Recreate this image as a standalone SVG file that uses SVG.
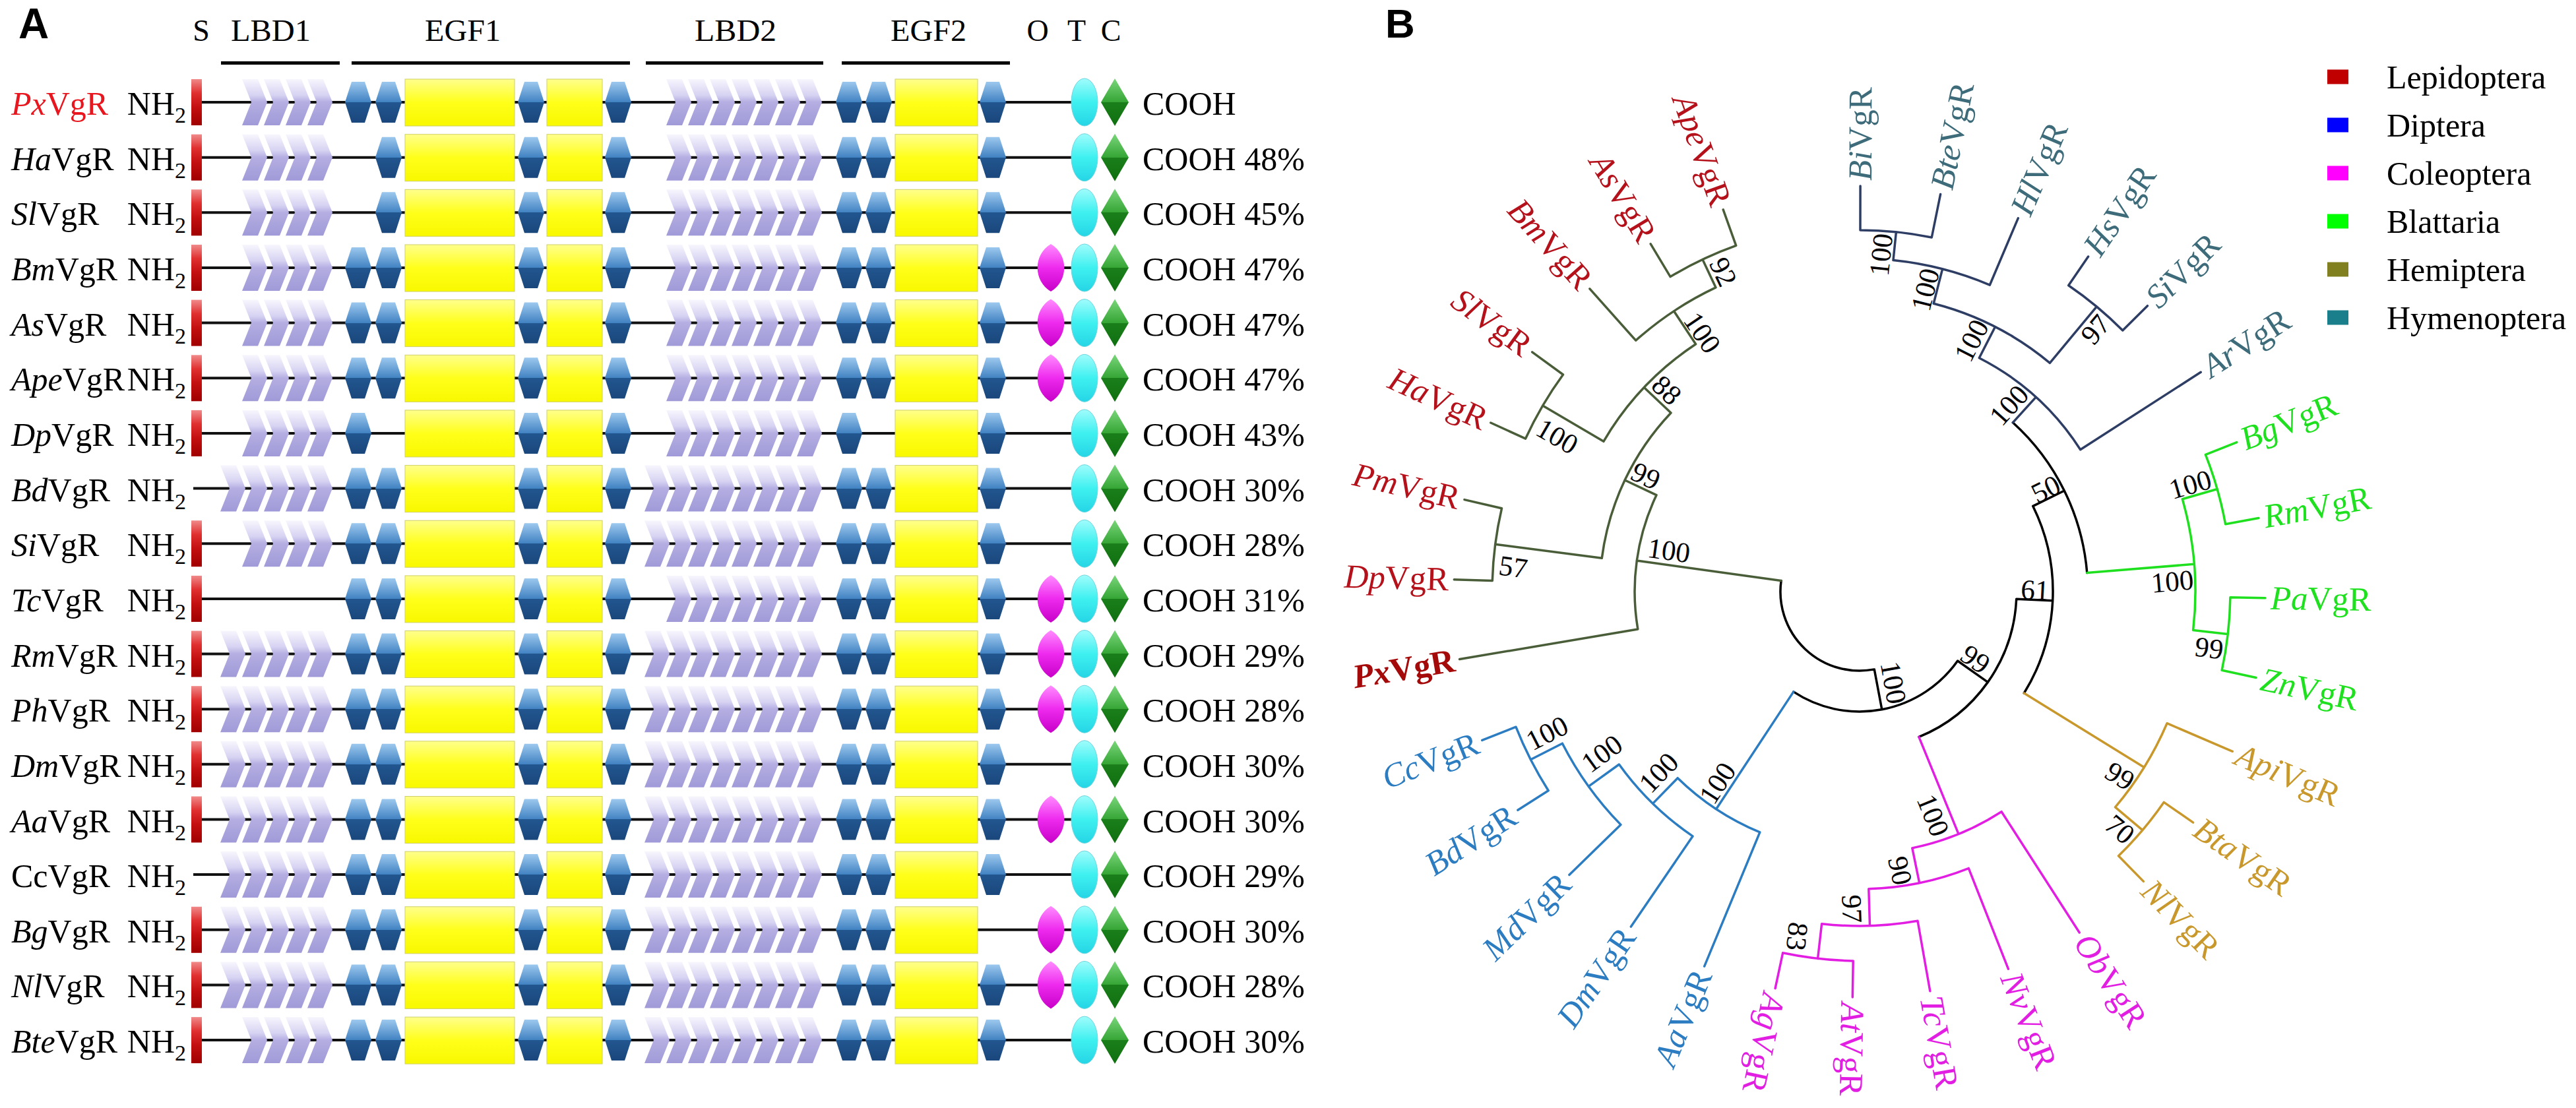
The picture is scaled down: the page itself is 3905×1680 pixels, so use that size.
<svg xmlns="http://www.w3.org/2000/svg" width="3905" height="1680" viewBox="0 0 3905 1680">
<style>
.t{font-family:"Liberation Serif","Times New Roman",serif;fill:#000}
.lab{font-size:50px}
.sub{font-size:34px}
.it{font-style:italic}
.hdr{font-size:46px}
.leaf{font-size:51px}
.bs{font-size:43px}
.leg{font-size:50px}
.e{fill:none;stroke-width:3.5;stroke-linecap:round;stroke-linejoin:round}
.k{stroke:#000}
.lep{stroke:#4a5d39}
.dip{stroke:#2b7cc1}
.col{stroke:#e31ee3}
.hem{stroke:#c9982c}
.bla{stroke:#1ee01e}
.hym{stroke:#2d3d64}
</style>
<defs>
<linearGradient id="gH" x1="0" y1="0" x2="0" y2="1"><stop offset="0" stop-color="#9cc8ee"/><stop offset="0.5" stop-color="#4182c2"/><stop offset="0.5" stop-color="#22568f"/><stop offset="1" stop-color="#1a477c"/></linearGradient>
<linearGradient id="gCh" x1="0" y1="0" x2="0" y2="1"><stop offset="0" stop-color="#f7f6fd"/><stop offset="0.35" stop-color="#d6d2f2"/><stop offset="0.5" stop-color="#b4aee2"/><stop offset="1" stop-color="#a09ad8"/></linearGradient>
<linearGradient id="gY" x1="0" y1="0" x2="0" y2="1"><stop offset="0" stop-color="#ffff8c"/><stop offset="0.5" stop-color="#ffff1a"/><stop offset="1" stop-color="#f8f800"/></linearGradient>
<linearGradient id="gS" x1="0" y1="0" x2="0" y2="1"><stop offset="0" stop-color="#f08a8a"/><stop offset="0.3" stop-color="#e03030"/><stop offset="0.6" stop-color="#c41010"/><stop offset="1" stop-color="#a00000"/></linearGradient>
<linearGradient id="gO" x1="0" y1="0" x2="0" y2="1"><stop offset="0" stop-color="#ff8cff"/><stop offset="0.5" stop-color="#ee2aee"/><stop offset="1" stop-color="#c800c8"/></linearGradient>
<linearGradient id="gT" x1="0" y1="0" x2="0" y2="1"><stop offset="0" stop-color="#a0fcfc"/><stop offset="0.5" stop-color="#3ff0f0"/><stop offset="1" stop-color="#25d5e5"/></linearGradient>
<linearGradient id="gC" x1="0" y1="0" x2="0" y2="1"><stop offset="0" stop-color="#7ad67a"/><stop offset="0.5" stop-color="#35a535"/><stop offset="0.5" stop-color="#1a7f1a"/><stop offset="1" stop-color="#0f6f0f"/></linearGradient>
<polygon id="hx" points="-20,0 -10,-31 10,-31 20,0 10,31 -10,31" fill="url(#gH)"/>
<polygon id="ch" points="0,-35 24,-35 38,0 24,35 0,35 14,0" fill="url(#gCh)"/>
<line id="bb" x1="293" y1="0" x2="1644" y2="0" stroke="#111" stroke-width="4"/>
<rect id="sb" x="290" y="-35" width="16" height="70" fill="url(#gS)"/>
<path id="oo" d="M1593,-36 C1620,-20 1620,20 1593,36 C1566,20 1566,-20 1593,-36Z" fill="url(#gO)"/>
<g id="L1a"><use href="#ch" x="367"/><use href="#ch" x="400"/><use href="#ch" x="433"/><use href="#ch" x="466"/></g>
<g id="L1b"><use href="#ch" x="334"/><use href="#L1a"/></g>
<g id="L2a"><use href="#ch" x="1010"/><use href="#ch" x="1043"/><use href="#ch" x="1076"/><use href="#ch" x="1109"/><use href="#ch" x="1142"/><use href="#ch" x="1175"/><use href="#ch" x="1208"/></g>
<g id="L2b"><use href="#ch" x="977"/><use href="#L2a"/></g>
<g id="cm">
<rect x="614" y="-35" width="166" height="71" fill="url(#gY)" stroke="#cfcf66" stroke-width="1"/>
<use href="#hx" x="805"/>
<rect x="829" y="-35" width="84" height="71" fill="url(#gY)" stroke="#cfcf66" stroke-width="1"/>
<use href="#hx" x="937"/>
<rect x="1357" y="-35" width="125" height="71" fill="url(#gY)" stroke="#cfcf66" stroke-width="1"/>
<ellipse cx="1644" cy="0" rx="20" ry="36" fill="url(#gT)" stroke="#6cd6de" stroke-width="1"/>
<polygon points="1690,-36 1711,0 1690,36 1669,0" fill="url(#gC)"/>
</g>
</defs>
<rect width="3905" height="1680" fill="#fff"/>

<g id="panelA" class="t">
<text x="28" y="58" font-family="Liberation Sans, Arial, sans-serif" font-weight="bold" font-size="64">A</text>
<g id="header">
<text class="hdr" x="305" y="62" text-anchor="middle">S</text>
<text class="hdr" x="350" y="62" textLength="121" lengthAdjust="spacingAndGlyphs">LBD1</text>
<text class="hdr" x="644" y="62" textLength="115" lengthAdjust="spacingAndGlyphs">EGF1</text>
<text class="hdr" x="1053" y="62" textLength="124" lengthAdjust="spacingAndGlyphs">LBD2</text>
<text class="hdr" x="1350" y="62" textLength="115" lengthAdjust="spacingAndGlyphs">EGF2</text>
<text class="hdr" x="1573" y="62" text-anchor="middle">O</text>
<text class="hdr" x="1632" y="62" text-anchor="middle">T</text>
<text class="hdr" x="1684" y="62" text-anchor="middle">C</text>
<rect x="335" y="93" width="180" height="5"/>
<rect x="533" y="93" width="422" height="5"/>
<rect x="979" y="93" width="269" height="5"/>
<rect x="1276" y="93" width="255" height="5"/>
</g>

<g id="row-Px" transform="translate(0,155)"><use href="#bb"/><use href="#sb"/><use href="#L1a"/><use href="#hx" x="543"/><use href="#hx" x="589"/><use href="#L2a"/><use href="#hx" x="1287"/><use href="#hx" x="1332"/><use href="#cm"/><use href="#hx" x="1505"/>
<text class="lab" x="17" y="19" fill="#e8161e"><tspan class="it">Px</tspan>VgR</text><text class="lab" x="282" y="19" text-anchor="end">NH<tspan class="sub" dy="12">2</tspan></text><text class="lab" x="1732" y="19">COOH</text></g>

<g id="row-Ha" transform="translate(0,238.7)"><use href="#bb"/><use href="#sb"/><use href="#L1a"/><use href="#hx" x="589"/><use href="#L2a"/><use href="#hx" x="1287"/><use href="#hx" x="1332"/><use href="#cm"/><use href="#hx" x="1505"/>
<text class="lab" x="17" y="19"><tspan class="it">Ha</tspan>VgR</text><text class="lab" x="282" y="19" text-anchor="end">NH<tspan class="sub" dy="12">2</tspan></text><text class="lab" x="1732" y="19">COOH 48%</text></g>

<g id="row-Sl" transform="translate(0,322.3)"><use href="#bb"/><use href="#sb"/><use href="#L1a"/><use href="#hx" x="589"/><use href="#L2a"/><use href="#hx" x="1287"/><use href="#hx" x="1332"/><use href="#cm"/><use href="#hx" x="1505"/>
<text class="lab" x="17" y="19"><tspan class="it">Sl</tspan>VgR</text><text class="lab" x="282" y="19" text-anchor="end">NH<tspan class="sub" dy="12">2</tspan></text><text class="lab" x="1732" y="19">COOH 45%</text></g>

<g id="row-Bm" transform="translate(0,406)"><use href="#bb"/><use href="#sb"/><use href="#L1a"/><use href="#hx" x="543"/><use href="#hx" x="589"/><use href="#L2a"/><use href="#hx" x="1287"/><use href="#hx" x="1332"/><use href="#cm"/><use href="#hx" x="1505"/><use href="#oo"/>
<text class="lab" x="17" y="19"><tspan class="it">Bm</tspan>VgR</text><text class="lab" x="282" y="19" text-anchor="end">NH<tspan class="sub" dy="12">2</tspan></text><text class="lab" x="1732" y="19">COOH 47%</text></g>

<g id="row-As" transform="translate(0,489.6)"><use href="#bb"/><use href="#sb"/><use href="#L1a"/><use href="#hx" x="543"/><use href="#hx" x="589"/><use href="#L2a"/><use href="#hx" x="1287"/><use href="#hx" x="1332"/><use href="#cm"/><use href="#hx" x="1505"/><use href="#oo"/>
<text class="lab" x="17" y="19"><tspan class="it">As</tspan>VgR</text><text class="lab" x="282" y="19" text-anchor="end">NH<tspan class="sub" dy="12">2</tspan></text><text class="lab" x="1732" y="19">COOH 47%</text></g>

<g id="row-Ape" transform="translate(0,573.3)"><use href="#bb"/><use href="#sb"/><use href="#L1a"/><use href="#hx" x="543"/><use href="#hx" x="589"/><use href="#L2a"/><use href="#hx" x="1287"/><use href="#hx" x="1332"/><use href="#cm"/><use href="#hx" x="1505"/><use href="#oo"/>
<text class="lab" x="17" y="19"><tspan class="it">Ape</tspan>VgR</text><text class="lab" x="282" y="19" text-anchor="end">NH<tspan class="sub" dy="12">2</tspan></text><text class="lab" x="1732" y="19">COOH 47%</text></g>

<g id="row-Dp" transform="translate(0,656.9)"><use href="#bb"/><use href="#sb"/><use href="#L1a"/><use href="#hx" x="543"/><use href="#L2a"/><use href="#hx" x="1287"/><use href="#cm"/><use href="#hx" x="1505"/>
<text class="lab" x="17" y="19"><tspan class="it">Dp</tspan>VgR</text><text class="lab" x="282" y="19" text-anchor="end">NH<tspan class="sub" dy="12">2</tspan></text><text class="lab" x="1732" y="19">COOH 43%</text></g>

<g id="row-Bd" transform="translate(0,740.6)"><use href="#bb"/><use href="#L1b"/><use href="#hx" x="543"/><use href="#hx" x="589"/><use href="#L2b"/><use href="#hx" x="1287"/><use href="#hx" x="1332"/><use href="#cm"/><use href="#hx" x="1505"/>
<text class="lab" x="17" y="19"><tspan class="it">Bd</tspan>VgR</text><text class="lab" x="282" y="19" text-anchor="end">NH<tspan class="sub" dy="12">2</tspan></text><text class="lab" x="1732" y="19">COOH 30%</text></g>

<g id="row-Si" transform="translate(0,824.2)"><use href="#bb"/><use href="#sb"/><use href="#L1a"/><use href="#hx" x="543"/><use href="#hx" x="589"/><use href="#L2b"/><use href="#hx" x="1287"/><use href="#hx" x="1332"/><use href="#cm"/><use href="#hx" x="1505"/>
<text class="lab" x="17" y="19"><tspan class="it">Si</tspan>VgR</text><text class="lab" x="282" y="19" text-anchor="end">NH<tspan class="sub" dy="12">2</tspan></text><text class="lab" x="1732" y="19">COOH 28%</text></g>

<g id="row-Tc" transform="translate(0,907.9)"><use href="#bb"/><use href="#sb"/><use href="#hx" x="543"/><use href="#hx" x="589"/><use href="#L2a"/><use href="#hx" x="1287"/><use href="#hx" x="1332"/><use href="#cm"/><use href="#hx" x="1505"/><use href="#oo"/>
<text class="lab" x="17" y="19"><tspan class="it">Tc</tspan>VgR</text><text class="lab" x="282" y="19" text-anchor="end">NH<tspan class="sub" dy="12">2</tspan></text><text class="lab" x="1732" y="19">COOH 31%</text></g>

<g id="row-Rm" transform="translate(0,991.5)"><use href="#bb"/><use href="#sb"/><use href="#L1b"/><use href="#hx" x="543"/><use href="#hx" x="589"/><use href="#L2b"/><use href="#hx" x="1287"/><use href="#hx" x="1332"/><use href="#cm"/><use href="#hx" x="1505"/><use href="#oo"/>
<text class="lab" x="17" y="19"><tspan class="it">Rm</tspan>VgR</text><text class="lab" x="282" y="19" text-anchor="end">NH<tspan class="sub" dy="12">2</tspan></text><text class="lab" x="1732" y="19">COOH 29%</text></g>

<g id="row-Ph" transform="translate(0,1075.2)"><use href="#bb"/><use href="#sb"/><use href="#L1b"/><use href="#hx" x="543"/><use href="#hx" x="589"/><use href="#L2b"/><use href="#hx" x="1287"/><use href="#hx" x="1332"/><use href="#cm"/><use href="#hx" x="1505"/><use href="#oo"/>
<text class="lab" x="17" y="19"><tspan class="it">Ph</tspan>VgR</text><text class="lab" x="282" y="19" text-anchor="end">NH<tspan class="sub" dy="12">2</tspan></text><text class="lab" x="1732" y="19">COOH 28%</text></g>

<g id="row-Dm" transform="translate(0,1158.8)"><use href="#bb"/><use href="#sb"/><use href="#L1b"/><use href="#hx" x="543"/><use href="#hx" x="589"/><use href="#L2b"/><use href="#hx" x="1287"/><use href="#hx" x="1332"/><use href="#cm"/><use href="#hx" x="1505"/>
<text class="lab" x="17" y="19"><tspan class="it">Dm</tspan>VgR</text><text class="lab" x="282" y="19" text-anchor="end">NH<tspan class="sub" dy="12">2</tspan></text><text class="lab" x="1732" y="19">COOH 30%</text></g>

<g id="row-Aa" transform="translate(0,1242.5)"><use href="#bb"/><use href="#sb"/><use href="#L1b"/><use href="#hx" x="543"/><use href="#hx" x="589"/><use href="#L2b"/><use href="#hx" x="1287"/><use href="#hx" x="1332"/><use href="#cm"/><use href="#hx" x="1505"/><use href="#oo"/>
<text class="lab" x="17" y="19"><tspan class="it">Aa</tspan>VgR</text><text class="lab" x="282" y="19" text-anchor="end">NH<tspan class="sub" dy="12">2</tspan></text><text class="lab" x="1732" y="19">COOH 30%</text></g>

<g id="row-Cc" transform="translate(0,1326.1)"><use href="#bb"/><use href="#L1b"/><use href="#hx" x="543"/><use href="#hx" x="589"/><use href="#L2b"/><use href="#hx" x="1287"/><use href="#hx" x="1332"/><use href="#cm"/><use href="#hx" x="1505"/>
<text class="lab" x="17" y="19">CcVgR</text><text class="lab" x="282" y="19" text-anchor="end">NH<tspan class="sub" dy="12">2</tspan></text><text class="lab" x="1732" y="19">COOH 29%</text></g>

<g id="row-Bg" transform="translate(0,1409.8)"><use href="#bb"/><use href="#sb"/><use href="#L1b"/><use href="#hx" x="543"/><use href="#hx" x="589"/><use href="#L2b"/><use href="#hx" x="1287"/><use href="#hx" x="1332"/><use href="#cm"/><use href="#oo"/>
<text class="lab" x="17" y="19"><tspan class="it">Bg</tspan>VgR</text><text class="lab" x="282" y="19" text-anchor="end">NH<tspan class="sub" dy="12">2</tspan></text><text class="lab" x="1732" y="19">COOH 30%</text></g>

<g id="row-Nl" transform="translate(0,1493.4)"><use href="#bb"/><use href="#sb"/><use href="#L1b"/><use href="#hx" x="543"/><use href="#hx" x="589"/><use href="#L2b"/><use href="#hx" x="1287"/><use href="#hx" x="1332"/><use href="#cm"/><use href="#hx" x="1505"/><use href="#oo"/>
<text class="lab" x="17" y="19"><tspan class="it">Nl</tspan>VgR</text><text class="lab" x="282" y="19" text-anchor="end">NH<tspan class="sub" dy="12">2</tspan></text><text class="lab" x="1732" y="19">COOH 28%</text></g>

<g id="row-Bte" transform="translate(0,1577.1)"><use href="#bb"/><use href="#sb"/><use href="#L1a"/><use href="#hx" x="543"/><use href="#hx" x="589"/><use href="#L2b"/><use href="#hx" x="1287"/><use href="#hx" x="1332"/><use href="#cm"/><use href="#hx" x="1505"/>
<text class="lab" x="17" y="19"><tspan class="it">Bte</tspan>VgR</text><text class="lab" x="282" y="19" text-anchor="end">NH<tspan class="sub" dy="12">2</tspan></text><text class="lab" x="1732" y="19">COOH 30%</text></g>
</g>

<g id="panelB" class="t">
<text x="2100" y="57" font-family="Liberation Sans, Arial, sans-serif" font-weight="bold" font-size="62">B</text>

<g id="connectors">
<path class="e k" d="M2841.3 1014.9 A120 120 0 0 1 2700.1 880.5 M2841.3 1014.9 L2852.8 1075.8 M2967.6 1002 A182 182 0 0 1 2718.8 1048.9 M2967.6 1002 L3013.4 1034.4 M3056.7 908.2 A238 238 0 0 1 2908.9 1117.4 M3056.7 908.2 L3111.7 910.8 M3081.8 767.4 A293 293 0 0 1 3068.3 1051 M3081.8 767.4 L3129.3 744 M3051.4 640.7 A346 346 0 0 1 3163.8 868.6"/>
<path class="e lep" d="M2700.1 880.5 L2481.2 850.1 M2482.8 953.9 A341 341 0 0 1 2511 750.7 M2482.8 953.9 L2212.6 999.6 M2511 750.7 L2463.1 728 M2428.3 846.3 A394 394 0 0 1 2533 626 M2428.3 846.3 L2266.6 825.3 M2262.3 880.5 A557 557 0 0 1 2276.5 770.8 M2262.3 880.5 L2204.3 878.8 M2276.5 770.8 L2220 757.6 M2533 626 L2492.3 587.5 M2430.9 669.3 A450 450 0 0 1 2570.6 521.8 M2430.9 669.3 L2338.6 615.1 M2312.6 665.1 A557 557 0 0 1 2369.5 568 M2312.6 665.1 L2259.8 641 M2369.5 568 L2322.7 533.8 M2570.6 521.8 L2537.5 471.7 M2479.7 516.2 A510 510 0 0 1 2601 435.9 M2479.7 516.2 L2409.9 437.8 M2601 435.9 L2581 393.4 M2532.1 419.6 A557 557 0 0 1 2631.7 372.4 M2532.1 419.6 L2502.2 369.8 M2631.7 372.4 L2612.2 317.8"/>
<path class="e dip" d="M2718.8 1048.9 L2601.6 1226.8 M2667.8 1261.9 A395 395 0 0 1 2543.2 1179.7 M2667.8 1261.9 L2583.7 1465.2 M2543.2 1179.7 L2505.5 1218.4 M2566 1267.9 A449 449 0 0 1 2454.4 1159 M2566 1267.9 L2472.4 1405.1 M2454.4 1159 L2408.1 1192.3 M2456.9 1250.4 A506 506 0 0 1 2368.4 1127.2 M2456.9 1250.4 L2378.9 1326.5 M2368.4 1127.2 L2320.3 1151.7 M2347.2 1198.7 A560 560 0 0 1 2298 1102.2 M2347.2 1198.7 L2300.9 1228.3 M2298 1102.2 L2246.8 1122.4"/>
<path class="e col" d="M2908.9 1117.4 L2969 1264.6 M3034.1 1230.7 A397 397 0 0 1 2898.8 1285.9 M3034.1 1230.7 L3152.2 1414 M2898.8 1285.9 L2909.7 1338.8 M2984.3 1316.6 A451 451 0 0 1 2832.8 1347.8 M2984.3 1316.6 L3044.4 1469.2 M2832.8 1347.8 L2834.5 1403.8 M2907 1396.3 A507 507 0 0 1 2761.6 1400.7 M2907 1396.3 L2925.8 1502.7 M2761.6 1400.7 L2755.6 1453.4 M2809.2 1456.9 A560 560 0 0 1 2702.6 1444.8 M2809.2 1456.9 L2808.3 1511.9 M2702.6 1444.8 L2691.1 1498.6"/>
<path class="e hem" d="M3068.3 1051 L3250.4 1163.4 M3285 1096.7 A507 507 0 0 1 3206.5 1223.9 M3285 1096.7 L3384.3 1139.3 M3206.5 1223.9 L3247.8 1258.7 M3280.2 1216.4 A561 561 0 0 1 3211.5 1297.8 M3280.2 1216.4 L3324.6 1247.1 M3211.5 1297.8 L3249.3 1336.4"/>
<path class="e bla" d="M3163.8 868.6 L3326.3 855.3 M3308.3 756.7 A509 509 0 0 1 3324.6 955.5 M3308.3 756.7 L3361.2 741.5 M3324.6 955.5 L3377.3 961.6 M3343.4 689.4 A564 564 0 0 1 3373.6 794.7 M3343.4 689.4 L3390.8 670.6 M3373.6 794.7 L3423.8 785.5 M3380.9 905.8 A562 562 0 0 1 3368.2 1016.2 M3380.9 905.8 L3433.9 906.7 M3368.2 1016.2 L3420 1027.5"/>
<path class="e hym" d="M3051.4 640.7 L3086.3 602.1 M3000.3 542.7 A398 398 0 0 1 3153.7 681.7 M3000.3 542.7 L3024.5 495.5 M3153.7 681.7 L3336.2 564.3 M2931.2 460.2 A451 451 0 0 1 3107.4 550.3 M2931.2 460.2 L2944.6 407.9 M3107.4 550.3 L3178.4 464.9 M2870 394.6 A505 505 0 0 1 3016.3 432.2 M2870 394.6 L2874.4 351.8 M3016.3 432.2 L3059.3 330.9 M2820 349 A548 548 0 0 1 2928.3 360 M2820 349 L2820.1 282 M2928.3 360 L2941.6 294.4 M3135.7 432.7 A562 562 0 0 1 3217.8 501 M3135.7 432.7 L3165.6 389 M3217.8 501 L3255.4 463.7"/>
</g>

<g id="leaves" class="leaf">
<g id="leaf-Bi" fill="#3d6b7a"><text transform="translate(2820.1,274) rotate(-89.9)" dy=".33em"><tspan class="it">Bi</tspan>VgR</text></g>
<g id="leaf-Bte" fill="#3d6b7a"><text transform="translate(2943.2,286.5) rotate(-78.5)" dy=".33em"><tspan class="it">Bte</tspan>VgR</text></g>
<g id="leaf-Hl" fill="#3d6b7a"><text transform="translate(3062.4,323.5) rotate(-67)" dy=".33em"><tspan class="it">Hl</tspan>VgR</text></g>
<g id="leaf-Hs" fill="#3d6b7a"><text transform="translate(3170.1,382.3) rotate(-55.7)" dy=".33em"><tspan class="it">Hs</tspan>VgR</text></g>
<g id="leaf-Si" fill="#3d6b7a"><text transform="translate(3261.1,458) rotate(-44.8)" dy=".33em"><tspan class="it">Si</tspan>VgR</text></g>
<g id="leaf-Ar" fill="#3d6b7a"><text transform="translate(3343,560) rotate(-32.75)" dy=".33em"><tspan class="it">Ar</tspan>VgR</text></g>
<g id="leaf-Bg" fill="#1ee01e"><text transform="translate(3398.3,667.7) rotate(-21.6)" dy=".33em"><tspan class="it">Bg</tspan>VgR</text></g>
<g id="leaf-Rm" fill="#1ee01e"><text transform="translate(3431.7,784) rotate(-10.45)" dy=".33em"><tspan class="it">Rm</tspan>VgR</text></g>
<g id="leaf-Pa" fill="#1ee01e"><text transform="translate(3441.9,906.8) rotate(0.9)" dy=".33em"><tspan class="it">Pa</tspan>VgR</text></g>
<g id="leaf-Zn" fill="#1ee01e"><text transform="translate(3427.8,1029.2) rotate(12.25)" dy=".33em"><tspan class="it">Zn</tspan>VgR</text></g>
<g id="leaf-Api" fill="#c9982c"><text transform="translate(3391.6,1142.4) rotate(23.2)" dy=".33em"><tspan class="it">Api</tspan>VgR</text></g>
<g id="leaf-Bta" fill="#c9982c"><text transform="translate(3331.2,1251.7) rotate(34.7)" dy=".33em"><tspan class="it">Bta</tspan>VgR</text></g>
<g id="leaf-Nl" fill="#c9982c"><text transform="translate(3254.9,1342.1) rotate(45.6)" dy=".33em"><tspan class="it">Nl</tspan>VgR</text></g>
<g id="leaf-Ob" fill="#e31ee3"><text transform="translate(3156.5,1420.7) rotate(57.2)" dy=".33em"><tspan class="it">Ob</tspan>VgR</text></g>
<g id="leaf-Nv" fill="#e31ee3"><text transform="translate(3047.3,1476.7) rotate(68.5)" dy=".33em"><tspan class="it">Nv</tspan>VgR</text></g>
<g id="leaf-Tc" fill="#e31ee3"><text transform="translate(2927.2,1510.5) rotate(80)" dy=".33em"><tspan class="it">Tc</tspan>VgR</text></g>
<g id="leaf-At" fill="#e31ee3"><text transform="translate(2808.1,1519.9) rotate(91)" dy=".33em"><tspan class="it">At</tspan>VgR</text></g>
<g id="leaf-Ag" fill="#e31ee3"><text transform="translate(2689.5,1506.4) rotate(102)" dy=".33em"><tspan class="it">Ag</tspan>VgR</text></g>
<g id="leaf-Aa" fill="#2b7cc1"><text transform="translate(2580.6,1472.6) rotate(-67.5)" dy=".33em" text-anchor="end"><tspan class="it">Aa</tspan>VgR</text></g>
<g id="leaf-Dm" fill="#2b7cc1"><text transform="translate(2467.9,1411.7) rotate(-55.7)" dy=".33em" text-anchor="end"><tspan class="it">Dm</tspan>VgR</text></g>
<g id="leaf-Md" fill="#2b7cc1"><text transform="translate(2373.1,1332.1) rotate(-44.3)" dy=".33em" text-anchor="end"><tspan class="it">Md</tspan>VgR</text></g>
<g id="leaf-Bd" fill="#2b7cc1"><text transform="translate(2294.2,1232.7) rotate(-32.6)" dy=".33em" text-anchor="end"><tspan class="it">Bd</tspan>VgR</text></g>
<g id="leaf-Cc" fill="#2b7cc1"><text transform="translate(2239.4,1125.3) rotate(-21.5)" dy=".33em" text-anchor="end"><tspan class="it">Cc</tspan>VgR</text></g>
<g id="leaf-Px" fill="#a50a0a"><text transform="translate(2204.7,1000.9) rotate(-9.6)" dy=".33em" text-anchor="end" font-weight="bold"><tspan class="it">Px</tspan>VgR</text></g>
<g id="leaf-Dp" fill="#b4111b"><text transform="translate(2196.3,878.5) rotate(1.7)" dy=".33em" text-anchor="end"><tspan class="it">Dp</tspan>VgR</text></g>
<g id="leaf-Pm" fill="#b4111b"><text transform="translate(2212.2,755.8) rotate(13.1)" dy=".33em" text-anchor="end"><tspan class="it">Pm</tspan>VgR</text></g>
<g id="leaf-Ha" fill="#b4111b"><text transform="translate(2252.5,637.7) rotate(24.6)" dy=".33em" text-anchor="end"><tspan class="it">Ha</tspan>VgR</text></g>
<g id="leaf-Sl" fill="#b4111b"><text transform="translate(2316.3,529.1) rotate(36.2)" dy=".33em" text-anchor="end"><tspan class="it">Sl</tspan>VgR</text></g>
<g id="leaf-Bm" fill="#b4111b"><text transform="translate(2404.6,431.8) rotate(48.3)" dy=".33em" text-anchor="end"><tspan class="it">Bm</tspan>VgR</text></g>
<g id="leaf-As" fill="#b4111b"><text transform="translate(2498.1,363) rotate(59)" dy=".33em" text-anchor="end"><tspan class="it">As</tspan>VgR</text></g>
<g id="leaf-Ape" fill="#b4111b"><text transform="translate(2609.5,310.3) rotate(70.35)" dy=".33em" text-anchor="end"><tspan class="it">Ape</tspan>VgR</text></g>
</g>

<g id="support" class="bs" text-anchor="middle">
<text transform="translate(2613,412) rotate(65)" dy=".35em">92</text>
<text transform="translate(2581,504) rotate(56)" dy=".35em">100</text>
<text transform="translate(2527,591) rotate(43)" dy=".35em">88</text>
<text transform="translate(2361,661) rotate(30)" dy=".35em">100</text>
<text transform="translate(2495,721) rotate(25)" dy=".35em">99</text>
<text transform="translate(2294,859) rotate(8)" dy=".35em">57</text>
<text transform="translate(2530,834) rotate(8)" dy=".35em">100</text>
<text transform="translate(2871,1035) rotate(80)" dy=".35em">100</text>
<text transform="translate(2995,999) rotate(35)" dy=".35em">99</text>
<text transform="translate(3085,894) rotate(3)" dy=".35em">61</text>
<text transform="translate(3101,741) rotate(-26)" dy=".35em">50</text>
<text transform="translate(3045,614) rotate(-48)" dy=".35em">100</text>
<text transform="translate(2988,516) rotate(-63)" dy=".35em">100</text>
<text transform="translate(2918,439) rotate(-76)" dy=".35em">100</text>
<text transform="translate(2851,386) rotate(-84)" dy=".35em">100</text>
<text transform="translate(3176,499) rotate(-50)" dy=".35em">97</text>
<text transform="translate(3293,881) rotate(-5)" dy=".35em">100</text>
<text transform="translate(3320,734) rotate(-16)" dy=".35em">100</text>
<text transform="translate(3349,982) rotate(7)" dy=".35em">99</text>
<text transform="translate(3214,1176) rotate(32)" dy=".35em">99</text>
<text transform="translate(3214,1257) rotate(40)" dy=".35em">70</text>
<text transform="translate(2931,1236) rotate(68)" dy=".35em">100</text>
<text transform="translate(2881,1320) rotate(78)" dy=".35em">90</text>
<text transform="translate(2808,1378) rotate(88)" dy=".35em">97</text>
<text transform="translate(2725,1420) rotate(96)" dy=".35em">83</text>
<text transform="translate(2603,1187) rotate(-57)" dy=".35em">100</text>
<text transform="translate(2514,1171) rotate(-46)" dy=".35em">100</text>
<text transform="translate(2428,1142) rotate(-36)" dy=".35em">100</text>
<text transform="translate(2345,1111) rotate(-27)" dy=".35em">100</text>
</g>

<g id="legend" class="leg">
<g id="legend-lep"><rect x="3528" y="105.5" width="32" height="22" fill="#c00000"/><text x="3618" y="133.5">Lepidoptera</text></g>
<g id="legend-dip"><rect x="3528" y="178.5" width="32" height="22" fill="#0000ff"/><text x="3618" y="206.5">Diptera</text></g>
<g id="legend-col"><rect x="3528" y="251.5" width="32" height="22" fill="#ff00ff"/><text x="3618" y="279.5">Coleoptera</text></g>
<g id="legend-bla"><rect x="3528" y="324.5" width="32" height="22" fill="#00ff00"/><text x="3618" y="352.5">Blattaria</text></g>
<g id="legend-hem"><rect x="3528" y="397.5" width="32" height="22" fill="#808020"/><text x="3618" y="425.5">Hemiptera</text></g>
<g id="legend-hym"><rect x="3528" y="470.5" width="32" height="22" fill="#1a7f8a"/><text x="3618" y="498.5">Hymenoptera</text></g>
</g>
</g>
</svg>
